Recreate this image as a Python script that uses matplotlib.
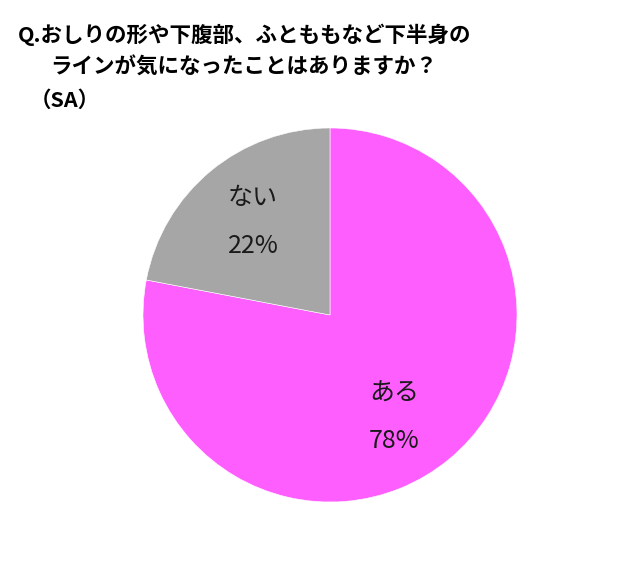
import matplotlib
matplotlib.use("Agg")
import matplotlib.pyplot as plt
import numpy as np

plt.rcParams['font.family'] = ['Noto Sans CJK JP', 'DejaVu Sans']

# Data
labels = ['ある', 'ない']
values = [78, 22]
colors = ['#FF5EFF', '#A6A6A6']
title_lines = ['Q.おしりの形や下腹部、ふとももなど下半身の',
               'ラインが気になったことはありますか？',
               '（SA）']

W, H = 640, 564
fig = plt.figure(figsize=(W / 100, H / 100), dpi=100)

# pie axes: center (330, 315) px, radius 187 px
cx, cy, r = 330, 315, 187
ax = fig.add_axes([(cx - r) / W, (H - cy - r) / H, 2 * r / W, 2 * r / H])

wedges, texts = ax.pie(values, colors=colors, startangle=90, counterclock=False,
                       radius=1.0, wedgeprops=dict(edgecolor='white', linewidth=0.4))

# labels inside each wedge
for w, lab, v in zip(wedges, labels, values):
    ang = np.deg2rad((w.theta1 + w.theta2) / 2)
    if lab == 'ある':
        ang = np.deg2rad(-58)
    d = 0.645
    x, y = d * np.cos(ang), d * np.sin(ang)
    ax.text(x, y + 0.127, lab, ha='center', va='center', fontsize=18, color='#1a1a1a')
    ax.text(x, y - 0.127, f'{v}%', ha='center', va='center', fontsize=18, color='#1a1a1a')

ax.set_xlim(-1, 1)
ax.set_ylim(-1, 1)
ax.set_aspect('equal')
ax.axis('off')

# title
fig.text(18 / W, 1 - 35 / H, title_lines[0], fontsize=15.5, fontweight='bold', va='center', ha='left')
fig.text(50 / W, 1 - 67 / H, title_lines[1], fontsize=15.5, fontweight='bold', va='center', ha='left')
fig.text(30 / W, 1 - 100 / H, title_lines[2], fontsize=15.5, fontweight='bold', va='center', ha='left')

fig.savefig('out.png', dpi=100, facecolor='white')
